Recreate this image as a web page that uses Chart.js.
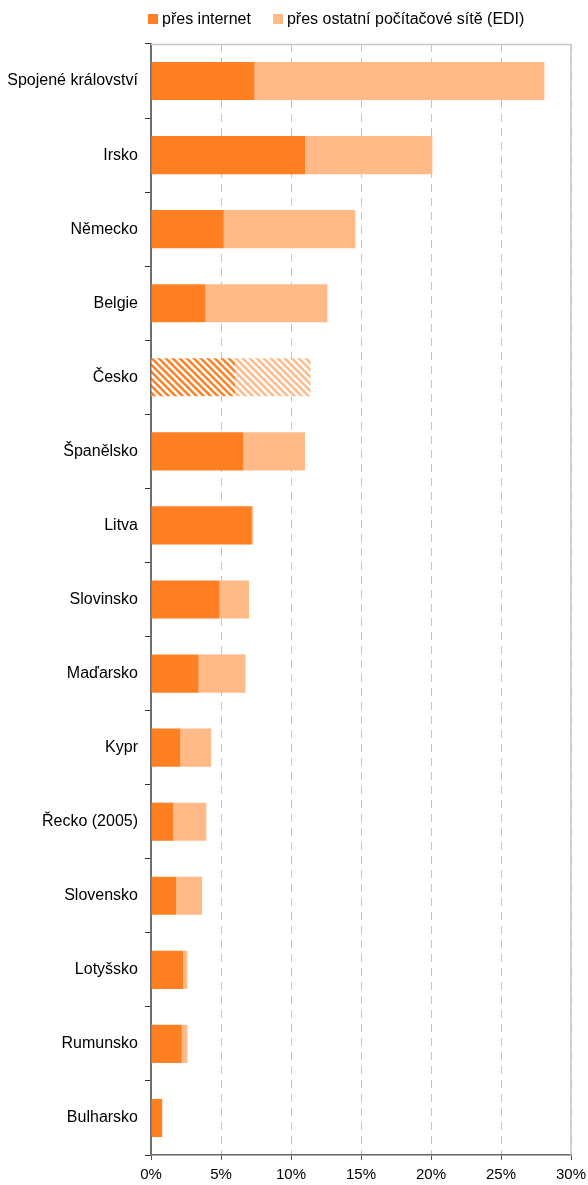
<!DOCTYPE html>
<html>
<head>
<meta charset="utf-8">
<script src="https://cdn.jsdelivr.net/npm/chart.js@4/dist/chart.umd.min.js"></script>
<style>
  body { margin: 0; background: #fff; }
  #wrap { position: relative; width: 588px; height: 1185px; }
  #legend { position: absolute; left: 148px; top: 10px; font: 16px "Liberation Sans", Arial, sans-serif; color: #000; display: flex; }
  #legend span.item { display: flex; align-items: center; margin-right: 22px; }
  #legend span.box { width: 10px; height: 10px; margin-right: 4px; display: inline-block; }
</style>
</head>
<body>
<div id="wrap">
  <canvas id="edi" width="588" height="1185"></canvas>
  <div id="legend"></div>
</div>
<script>
var categories = ['Spojené království', 'Irsko', 'Německo', 'Belgie', 'Česko', 'Španělsko', 'Litva',
    'Slovinsko', 'Maďarsko', 'Kypr', 'Řecko (2005)', 'Slovensko', 'Lotyšsko', 'Rumunsko', 'Bulharsko'];
var internet = [7.4, 11.0, 5.2, 3.9, 6.0, 6.6, 7.2, 4.9, 3.4, 2.1, 1.6, 1.8, 2.3, 2.2, 0.8];
var edi = [20.7, 9.1, 9.4, 8.7, 5.4, 4.4, 0.1, 2.1, 3.35, 2.2, 2.35, 1.85, 0.3, 0.4, 0];
var seriesNames = ['přes internet', 'přes ostatní počítačové sítě (EDI)'];
var xTicks = [0, 5, 10, 15, 20, 25, 30];
var hatched = 'Česko';

var orange = '#ff7f23';
var peach = '#ffba88';

// diagonal stripes for the hatched row
function stripes(color) {
    var n = 7;
    var c = document.createElement('canvas');
    c.width = n; c.height = n;
    var g = c.getContext('2d');
    g.fillStyle = color;
    g.fillRect(0, 0, n, n);
    g.strokeStyle = '#ffffff';
    g.lineWidth = 2.5;
    g.beginPath();
    g.moveTo(-1, -1); g.lineTo(n + 1, n + 1);
    g.moveTo(-1, n - 1); g.lineTo(1, n + 1);
    g.moveTo(n - 1, -1); g.lineTo(n + 1, 1);
    g.stroke();
    return document.getElementById('edi').getContext('2d').createPattern(c, 'repeat');
}

function colorsFor(color) {
    var p = stripes(color);
    return categories.map(function(c) { return c === hatched ? p : color; });
}

// legend
var legendEl = document.getElementById('legend');
[orange, peach].forEach(function(col, i) {
    var item = document.createElement('span');
    item.className = 'item';
    item.innerHTML = '<span class="box" style="background:' + col + '"></span>' + seriesNames[i];
    legendEl.appendChild(item);
});

var frame = {
    id: 'frame',
    beforeDatasetsDraw: function(chart) {
        var a = chart.chartArea, ctx = chart.ctx;
        ctx.save();
        ctx.strokeStyle = '#c8c8c8';
        ctx.lineWidth = 1.5;
        ctx.beginPath();
        ctx.moveTo(a.left, a.top + 0.5);
        ctx.lineTo(a.right, a.top + 0.5);
        ctx.lineTo(a.right, a.bottom);
        ctx.stroke();
        ctx.restore();
    }
};

var ediChart = new Chart(document.getElementById('edi').getContext('2d'), {
    type: 'bar',
    plugins: [frame],
    data: {
        labels: categories,
        datasets: [{
            label: seriesNames[0],
            data: internet,
            backgroundColor: colorsFor(orange),
            barPercentage: 0.515,
            categoryPercentage: 1
        }, {
            label: seriesNames[1],
            data: edi,
            backgroundColor: colorsFor(peach),
            barPercentage: 0.515,
            categoryPercentage: 1
        }]
    },
    options: {
        indexAxis: 'y',
        responsive: false,
        animation: false,
        layout: {
            padding: { top: 44, right: 0, left: 0, bottom: 0 }
        },
        plugins: {
            legend: { display: false },
            tooltip: { enabled: false }
        },
        scales: {
            x: {
                stacked: true,
                min: 0,
                max: 30,
                afterBuildTicks: function(scale) {
                    scale.ticks = xTicks.map(function(v) { return { value: v }; });
                },
                afterFit: function(scale) {
                    scale.height = 30;
                    scale.paddingRight = 17;
                    scale.paddingLeft = 0;
                },
                ticks: {
                    color: '#000',
                    padding: 6,
                    font: { family: '"Liberation Sans", Arial', size: 15 },
                    callback: function(v) { return v + '%'; }
                },
                grid: {
                    color: '#c4c4c4',
                    lineWidth: 1,
                    tickColor: '#555',
                    tickLength: 5
                },
                border: { color: '#666', width: 1.5, dash: [8, 6] }
            },
            y: {
                stacked: true,
                afterFit: function(scale) { scale.width = 151; },
                ticks: {
                    color: '#000',
                    padding: 7,
                    font: { family: '"Liberation Sans", Arial', size: 16 }
                },
                grid: {
                    offset: true,
                    drawOnChartArea: false,
                    tickColor: '#333',
                    tickLength: 6
                },
                border: { color: '#6e6e6e', width: 2 }
            }
        }
    }
});
</script>
</body>
</html>
